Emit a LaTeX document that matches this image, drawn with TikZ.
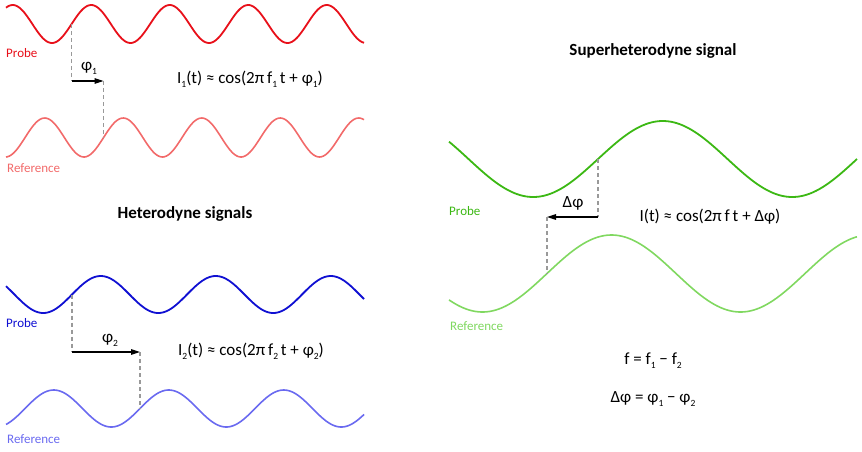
\documentclass[tikz,border=0pt]{standalone}
\usepackage{fontspec}
\setmainfont{Carlito}
\usetikzlibrary{arrows.meta}

\definecolor{probered}{HTML}{E8101A}
\definecolor{refred}{HTML}{F26A6A}
\definecolor{probeblue}{HTML}{1010D2}
\definecolor{refblue}{HTML}{6A6AF0}
\definecolor{probegreen}{HTML}{3CB814}
\definecolor{refgreen}{HTML}{80D860}
\definecolor{dashgray}{HTML}{999999}

% lowered small index, as in the equations
\newcommand{\sbs}[1]{\raisebox{-0.5ex}{\fontsize{9.5}{9.5}\selectfont #1}}

\begin{document}
\begin{tikzpicture}[x=1pt, y=-1pt, font=\fontsize{17}{19}\selectfont]
    % Styles
    \tikzstyle{wave}=[line width=1.8pt, smooth, samples=220]
    \tikzstyle{ref wave}=[line width=1.6pt, smooth, samples=220]
    \tikzstyle{guide}=[dashgray, line width=1.3pt, dash pattern=on 4pt off 3pt]
    \tikzstyle{shift arrow}=[black, line width=1.2pt, -{Triangle[length=9pt,width=5.5pt]}]
    \tikzstyle{tag}=[anchor=west, inner sep=0pt, font=\fontsize{13}{15}\selectfont]
    \tikzstyle{title}=[inner sep=0pt, font=\fontsize{17}{19}\selectfont\bfseries]

    \useasboundingbox (0,0) rectangle (862,451);

    % --- Red pair (f_1) ---
    \draw[wave, probered, domain=6:364] plot (\x, {24 - 19*sin((\x-71.6)/78.5*360)});
    \draw[ref wave, refred, domain=6:364] plot (\x, {137.5 - 19.5*sin((\x-103.6)/78.5*360)});
    \node[tag, probered] (probe1) at (6,53) {Probe};
    \node[tag, refred] (ref1) at (7,168) {Reference};

    \coordinate (p1) at (71.6,24);
    \coordinate (a1s) at (71.6,81);
    \coordinate (a1e) at (103.6,81);
    \coordinate (r1) at (103.6,137.5);
    \draw[guide] (p1) -- (a1s);
    \draw[shift arrow] (a1s) -- (a1e);
    \draw[guide] (a1e) -- (r1);
    \node (phi1) at (89,68) {φ\sbs{1}};
    \node (eq1) at (250,79) {I\sbs{1}(t) ≈ cos(2π\,f\sbs{1}\,t + φ\sbs{1})};

    % --- Title ---
    \node[title] (het) at (185,214) {Heterodyne signals};

    % --- Blue pair (f_2) ---
    \draw[wave, probeblue, domain=6:364] plot (\x, {294.5 - 18.5*sin((\x-72)/115*360)});
    \draw[ref wave, refblue, domain=6:364] plot (\x, {408.5 - 18.5*sin((\x-140)/115*360)});
    \node[tag, probeblue] (probe2) at (6,323) {Probe};
    \node[tag, refblue] (ref2) at (7,439) {Reference};

    \coordinate (p2) at (72,294.5);
    \coordinate (a2s) at (72,352);
    \coordinate (a2e) at (140,352);
    \coordinate (r2) at (140,408.5);
    \draw[guide] (p2) -- (a2s);
    \draw[shift arrow] (a2s) -- (a2e);
    \draw[guide] (a2e) -- (r2);
    \node (phi2) at (110,340) {φ\sbs{2}};
    \node (eq2) at (251,351) {I\sbs{2}(t) ≈ cos(2π\,f\sbs{2}\,t + φ\sbs{2})};

    % --- Green pair (f = f_1 - f_2) ---
    \node[title] (super) at (653,51) {Superheterodyne signal};
    \draw[wave, probegreen, domain=449:857] plot (\x, {159 - 38*sin((\x-598)/259*360)});
    \draw[ref wave, refgreen, domain=449:857] plot (\x, {273.5 - 38.5*sin((\x-547)/258*360)});
    \node[tag, probegreen] (probe3) at (449,211) {Probe};
    \node[tag, refgreen] (ref3) at (450,326) {Reference};

    \coordinate (p3) at (598,159);
    \coordinate (a3s) at (598,217);
    \coordinate (a3e) at (547,217);
    \coordinate (r3) at (547,273.5);
    \draw[guide] (p3) -- (a3s);
    \draw[shift arrow] (a3s) -- (a3e);
    \draw[guide] (a3e) -- (r3);
    \node (dphi) at (573,203) {Δφ};
    \node (eq3) at (710,217) {I(t) ≈ cos(2π\,f\,t + Δφ)};

    % Relations
    \node (freq) at (653,361) {f = f\sbs{1} − f\sbs{2}};
    \node (phase) at (653,399) {Δφ = φ\sbs{1} − φ\sbs{2}};
\end{tikzpicture}
\end{document}
